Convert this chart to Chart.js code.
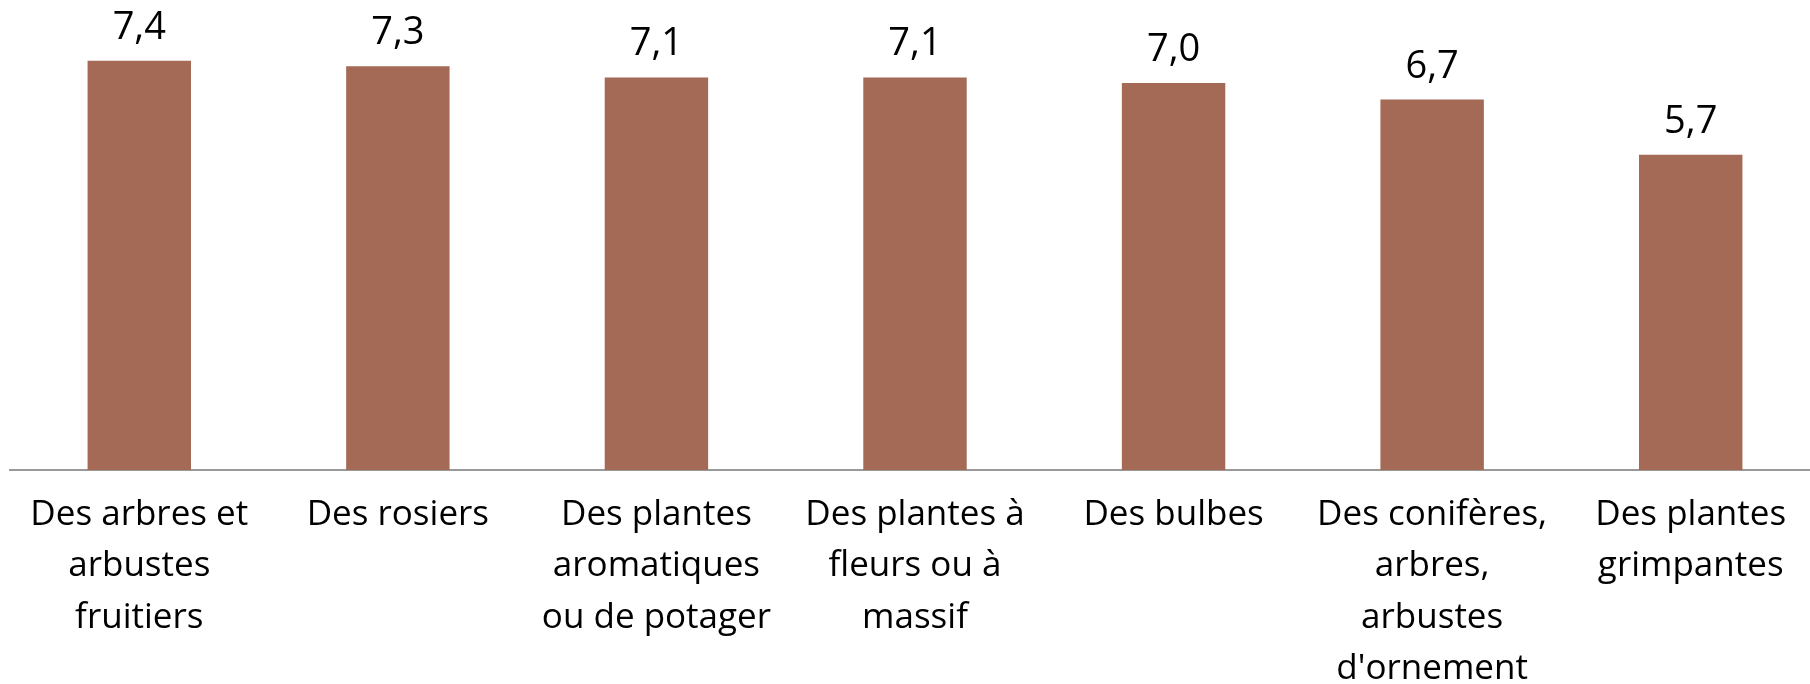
<!DOCTYPE html>
<html>
<head>
<meta charset="utf-8">
<script src="https://cdn.jsdelivr.net/npm/chart.js@4"></script>
<style>
html,body{margin:0;padding:0;background:#fff;overflow:hidden;}
#wrap{width:1820px;height:684px;position:relative;}
</style>
</head>
<body>
<div id="wrap"><canvas id="bar-chart"></canvas></div>
<script>
var categories=[
    ['Des arbres et','arbustes','fruitiers'],
    ['Des rosiers'],
    ['Des plantes','aromatiques','ou de potager'],
    ['Des plantes à','fleurs ou à','massif'],
    ['Des bulbes'],
    ['Des conifères,','arbres,','arbustes',"d'ornement"],
    ['Des plantes','grimpantes']
];
var scores=[7.4,7.3,7.1,7.1,7.0,6.7,5.7];
var yMin=0;
var yMax=8.5;

// values written above each bar, french comma
var valueLabels={
    id:'valueLabels',
    afterDatasetsDraw:function(chart)
    {
        let ctx=chart.ctx;
        let meta=chart.getDatasetMeta(0);
        ctx.save();
        ctx.font='38px "Open Sans"';
        ctx.fillStyle='#000';
        ctx.textAlign='center';
        ctx.textBaseline='alphabetic';
        meta.data.forEach(function(bar,i)
        {
            ctx.fillText(scores[i].toFixed(1).replace('.',','),bar.x,bar.y-22);
        });
        ctx.restore();
    }
};

window.onload=function()
{
    let chart=document.getElementById("bar-chart").getContext('2d');
    new Chart(chart,{
        type:'bar',
        data:{
            labels:categories,
            datasets:[{
                data:scores,
                backgroundColor:'#A46A55',
                borderWidth:0,
                categoryPercentage:1,
                barPercentage:0.4
            }]
        },
        options:{
            responsive:true,
            maintainAspectRatio:false,
            animation:false,
            layout:{padding:{left:10,right:0,top:0,bottom:0}},
            plugins:{legend:{display:false},tooltip:{enabled:false}},
            scales:{
                x:{
                    grid:{display:false,drawTicks:false},
                    border:{display:true,color:'#999',width:2},
                    ticks:{
                        color:'#000',
                        padding:19,
                        maxRotation:0,
                        autoSkip:false,
                        font:{family:'"Open Sans"',size:35,lineHeight:1.47}
                    },
                    afterFit:function(scale){scale.height=214;}
                },
                y:{
                    display:false,
                    min:yMin,
                    max:yMax
                }
            }
        },
        plugins:[valueLabels]
    });
}
</script>
</body>
</html>
